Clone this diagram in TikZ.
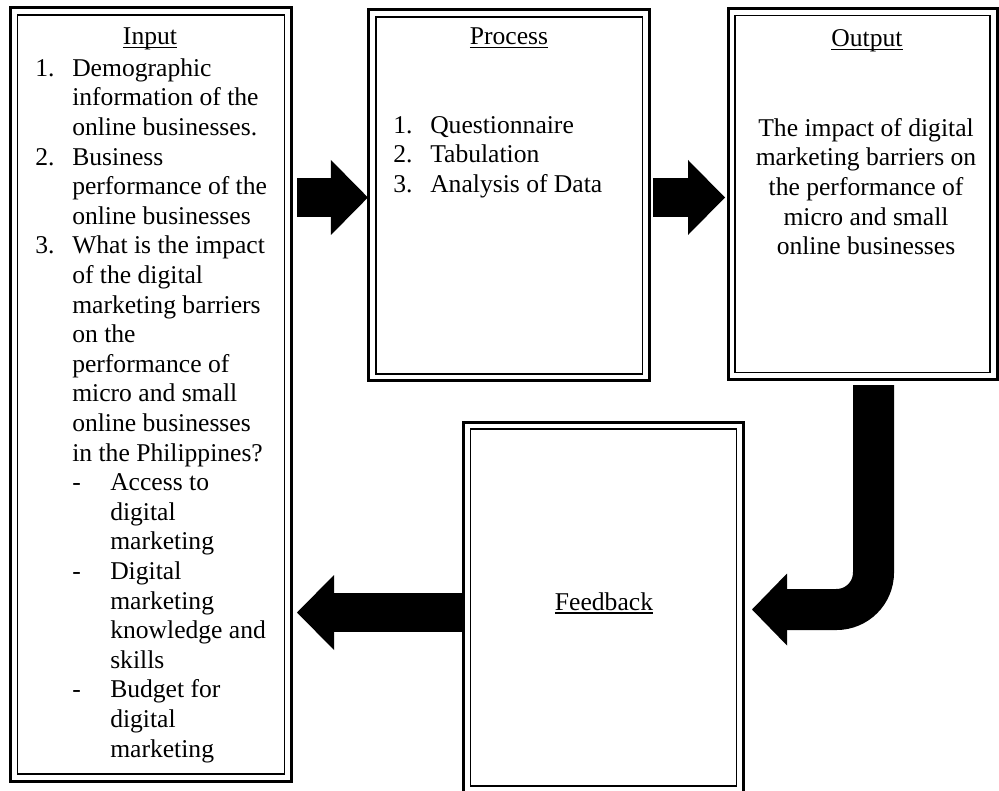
\documentclass[tikz,border=0pt]{standalone}
\usepackage{fontspec}
\setmainfont{Liberation Serif}
\usetikzlibrary{arrows.meta,calc}
\newlength\pxu
\setlength\pxu{0.75pt}
\newsavebox\ulbox
\newcommand\ulx[1]{\sbox\ulbox{#1}\rlap{\rule[-3.5\pxu]{\wd\ulbox}{1.3\pxu}}\usebox\ulbox}
\newcommand\numln[2]{\makebox[37\pxu][l]{#1}#2}
\newcommand\contln[1]{\hspace*{37\pxu}#1}
\newcommand\dashln[2]{\hspace*{37\pxu}\makebox[38\pxu][l]{#1}#2}
\newcommand\subln[1]{\hspace*{75\pxu}#1}
\newcommand\innerframe[1]{\draw[line width=1.5\pxu] ($(#1.north west)+(7,7)$) rectangle ($(#1.south east)+(-7,-7)$);}
\begin{document}
\begin{tikzpicture}[x=0.75pt,y=-0.75pt,
  outerbox/.style={draw, line width=2.25pt, inner sep=0pt, outer sep=0pt},
  txt/.style={inner sep=0pt, font=\fontsize{19.2pt}{22.2pt}\selectfont},
  blockarrow/.style={line width=29.25pt, -{Triangle[width=56.25pt,length=27.75pt,line width=0pt]}},
  bentarrow/.style={line width=30.75pt, rounded corners=27.75pt, -{Triangle[width=54pt,length=26.25pt,line width=0pt]}}]
\useasboundingbox (0,0) rectangle (999,791);
% boxes
\node[outerbox, minimum width=210.75pt, minimum height=579.75pt] (inbox) at (151.2,394.5) {};
\node[outerbox, minimum width=210.4pt, minimum height=278.25pt] (procbox) at (509.2,195.5) {};
\node[outerbox, minimum width=201.75pt, minimum height=278.25pt] (outbox) at (862.5,194) {};
\node[outerbox, minimum width=210pt, minimum height=278.25pt] (fbbox) at (603.5,607.5) {};
\innerframe{inbox}
\innerframe{procbox}
\innerframe{outbox}
\innerframe{fbbox}
% texts
\node[txt, anchor=base] (intitle) at (150,45) {\ulx{Input}};
\node[txt, anchor=north west, align=left] (inlist) at (35,55.3) {%
\strut\numln{1.}{Demographic}\\
\contln{information of the}\\
\contln{online businesses.}\\
\numln{2.}{Business}\\
\contln{performance of the}\\
\contln{online businesses}\\
\numln{3.}{What is the impact}\\
\contln{of the digital}\\
\contln{marketing barriers}\\
\contln{on the}\\
\contln{performance of}\\
\contln{micro and small}\\
\contln{online businesses}\\
\contln{in the Philippines?}\\
\dashln{-}{Access to}\\
\subln{digital}\\
\subln{marketing}\\
\dashln{-}{Digital}\\
\subln{marketing}\\
\subln{knowledge and}\\
\subln{skills}\\
\dashln{-}{Budget for}\\
\subln{digital}\\
\subln{marketing}};
\node[txt, anchor=base] (proctitle) at (509,45) {\ulx{Process}};
\node[txt, anchor=north west, align=left] (proclist) at (393,112.3) {%
\strut\numln{1.}{Questionnaire}\\
\numln{2.}{Tabulation}\\
\numln{3.}{Analysis of Data}};
\node[txt, anchor=base] (outtitle) at (867,47) {\ulx{Output}};
\node[txt, anchor=north, align=center] (outtext) at (866,115.3) {%
\strut The impact of digital\\
marketing barriers on\\
the performance of\\
micro and small\\
online businesses};
\node[txt, anchor=base] (fbtitle) at (604,610) {\ulx{Feedback}};
% arrows
\coordinate (a1s) at ($(inbox.east |- procbox.west)+(5.5,2)$);
\coordinate (a1e) at ($(procbox.west)+(-1,2)$);
\coordinate (a2s) at ($(procbox.east)+(3.5,2)$);
\coordinate (a2e) at ($(outbox.west |- a2s)+(-3,0)$);
\coordinate (a3s) at ($(fbbox.west)+(0,5)$);
\coordinate (a3e) at ($(inbox.east |- a3s)+(5.3,0)$);
\coordinate (c1) at ($(outbox.south)+(11,5.5)$);
\coordinate (c2) at ($(fbbox.east)+(8.5,2)$);
\draw[blockarrow] (a1s) -- (a1e);
\draw[blockarrow] (a2s) -- (a2e);
\draw[blockarrow] (a3s) -- (a3e);
\draw[bentarrow] (c1) |- (c2);
\end{tikzpicture}
\end{document}
